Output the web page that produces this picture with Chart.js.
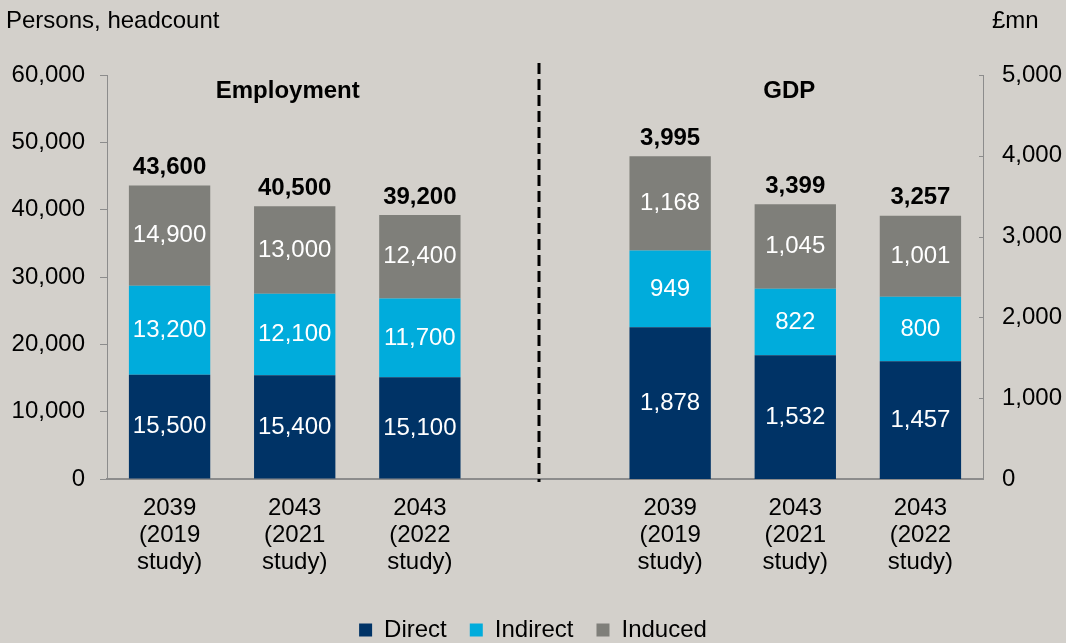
<!DOCTYPE html>
<html>
<head>
<meta charset="utf-8">
<script src="https://cdn.jsdelivr.net/npm/chart.js@4.4.1/dist/chart.umd.min.js"></script>
<style>
  html, body { margin: 0; padding: 0; background: #d3d0cb; }
  #wrap { width: 1066px; height: 643px; position: relative; }
</style>
</head>
<body>
<div id="wrap"><canvas id="impactChart"></canvas></div>
<script>
// study labels (same three studies for both panels)
const studyLabels = [['2039', '(2019', 'study)'], ['2043', '(2021', 'study)'], ['2043', '(2022', 'study)']]

// employment, persons headcount (left axis)
const jobsDirect = [15500, 15400, 15100]
const jobsIndirect = [13200, 12100, 11700]
const jobsInduced = [14900, 13000, 12400]
const jobsTotal = [43600, 40500, 39200]

// GDP, £mn (right axis)
const gdpDirect = [1878, 1532, 1457]
const gdpIndirect = [949, 822, 800]
const gdpInduced = [1168, 1045, 1001]
const gdpTotal = [3995, 3399, 3257]

const seriesNames = ['Direct', 'Indirect', 'Induced']
const seriesColors = ['#003366', '#00acdc', '#7f7f7a']

const FONT = '"Liberation Sans", Arial, sans-serif'
const AXIS_GREY = '#8c8c8c'
const SIZE = 24

Chart.defaults.font.family = FONT
Chart.defaults.font.size = SIZE
Chart.defaults.color = '#000'

const categories = [...studyLabels, '', ...studyLabels]
const gap = [null]
const none = [null, null, null]

const jobsSeries = [jobsDirect, jobsIndirect, jobsInduced]
const gdpSeries = [gdpDirect, gdpIndirect, gdpInduced]

const datasets = []
jobsSeries.forEach((vals, i) => {
    datasets.push({
        label: seriesNames[i],
        data: [...vals, ...gap, ...none],
        backgroundColor: seriesColors[i],
        yAxisID: 'y',
        stack: 'all',
        borderWidth: 0
    })
})
gdpSeries.forEach((vals, i) => {
    datasets.push({
        label: seriesNames[i],
        data: [...none, ...gap, ...vals],
        backgroundColor: seriesColors[i],
        yAxisID: 'y1',
        stack: 'all',
        borderWidth: 0
    })
})

const fmt = v => v.toLocaleString('en-US')

// segment values, totals above the stacks
const barLabels = {
    id: 'barLabels',
    afterDatasetsDraw(chart) {
        const ctx = chart.ctx
        ctx.save()
        ctx.textAlign = 'center'
        ctx.textBaseline = 'middle'
        chart.data.datasets.forEach((ds, di) => {
            const meta = chart.getDatasetMeta(di)
            meta.data.forEach((bar, i) => {
                const v = ds.data[i]
                if (v == null) return
                ctx.font = SIZE + 'px ' + FONT
                ctx.fillStyle = '#fff'
                ctx.fillText(fmt(v), bar.x, (bar.y + bar.base) / 2)
            })
        })
        const tops = [[2, jobsTotal, 0], [5, gdpTotal, 4]]
        ctx.font = 'bold ' + SIZE + 'px ' + FONT
        ctx.fillStyle = '#000'
        tops.forEach(([di, totals, offset]) => {
            const meta = chart.getDatasetMeta(di)
            totals.forEach((t, i) => {
                const bar = meta.data[i + offset]
                ctx.fillText(fmt(t), bar.x, bar.y - 18)
            })
        })
        ctx.restore()
    },
    afterDraw(chart) {
        const ctx = chart.ctx
        const {x, y1} = chart.scales
        const area = chart.chartArea
        ctx.save()
        // divider between the two panels
        const dx = Math.round(x.getPixelForValue(3) - 6)
        ctx.strokeStyle = '#000'
        ctx.lineWidth = 3
        ctx.setLineDash([11, 5])
        ctx.beginPath()
        ctx.moveTo(dx, 63)
        ctx.lineTo(dx, area.bottom + 3)
        ctx.stroke()
        ctx.setLineDash([])

        // inward ticks on the right axis
        ctx.strokeStyle = AXIS_GREY
        ctx.lineWidth = 1
        y1.ticks.forEach(t => {
            const py = Math.round(y1.getPixelForValue(t.value)) + 0.5
            ctx.beginPath()
            ctx.moveTo(area.right - 4, py)
            ctx.lineTo(area.right, py)
            ctx.stroke()
        })

        // panel headings
        ctx.textAlign = 'center'
        ctx.textBaseline = 'middle'
        ctx.font = 'bold ' + SIZE + 'px ' + FONT
        ctx.fillText('Employment', x.getPixelForValue(1) - 7, 91)
        ctx.fillText('GDP', x.getPixelForValue(5) - 6, 91)

        // axis unit captions
        ctx.font = SIZE + 'px ' + FONT
        ctx.textAlign = 'left'
        ctx.fillText('Persons, headcount', 6, 21)
        ctx.fillText('£mn', 992, 21)
        ctx.restore()
    }
}

new Chart(document.getElementById('impactChart'), {
    type: 'bar',
    data: { labels: categories, datasets: datasets },
    options: {
        responsive: true,
        maintainAspectRatio: false,
        animation: false,
        categoryPercentage: 1,
        barPercentage: 0.65,
        layout: { padding: { top: 75, left: 0, right: 0, bottom: -9 } },
        plugins: {
            tooltip: { enabled: false },
            legend: {
                position: 'bottom',
                labels: {
                    boxWidth: 13,
                    boxHeight: 13,
                    padding: 23,
                    color: '#000',
                    font: { size: SIZE },
                    filter: item => item.datasetIndex < 3
                }
            }
        },
        scales: {
            x: {
                stacked: true,
                grid: { display: false, drawTicks: false },
                border: { display: true, color: AXIS_GREY, width: 2 },
                ticks: { padding: 16, autoSkip: false, maxRotation: 0, font: { size: SIZE, lineHeight: 1.13 } },
                afterFit: s => { s.height = 116 }
            },
            y: {
                position: 'left',
                stacked: true,
                min: 0,
                max: 60000,
                ticks: { stepSize: 10000, padding: 15, callback: v => fmt(v) },
                grid: { drawOnChartArea: false, tickLength: 7, color: AXIS_GREY },
                border: { color: AXIS_GREY, width: 1 },
                afterFit: s => { s.width = 107 }
            },
            y1: {
                position: 'right',
                stacked: true,
                min: 0,
                max: 5000,
                ticks: { stepSize: 1000, padding: 19, callback: v => fmt(v) },
                grid: { display: false, drawTicks: false },
                border: { color: AXIS_GREY, width: 1 },
                afterFit: s => { s.width = 83 }
            }
        }
    },
    plugins: [barLabels]
})
</script>
</body>
</html>
